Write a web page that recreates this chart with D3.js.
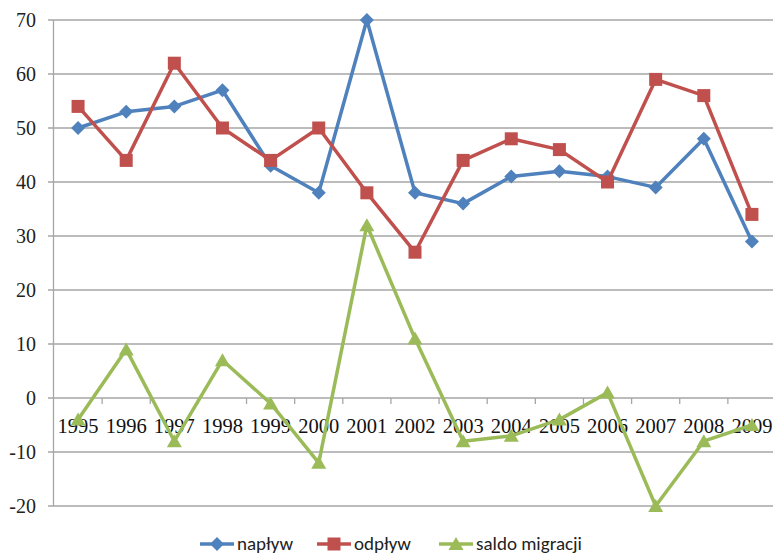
<!DOCTYPE html>
<html>
<head>
<meta charset="utf-8">
<script src="https://cdn.jsdelivr.net/npm/d3@7"></script>
<style>
body { margin: 0; background: #fff; }
</style>
</head>
<body>
<svg id="chart" width="775" height="554"></svg>
<script>
var years = ["1995","1996","1997","1998","1999","2000","2001","2002","2003","2004","2005","2006","2007","2008","2009"];
var naplyw = [50, 53, 54, 57, 43, 38, 70, 38, 36, 41, 42, 41, 39, 48, 29];
var odplyw = [54, 44, 62, 50, 44, 50, 38, 27, 44, 48, 46, 40, 59, 56, 34];
var saldo = [-4, 9, -8, 7, -1, -12, 32, 11, -8, -7, -4, 1, -20, -8, -5];
var yTicks = [-20, -10, 0, 10, 20, 30, 40, 50, 60, 70];

var series = [
	{ name: "napływ", values: naplyw, color: "#4F81BD", shape: "diamond" },
	{ name: "odpływ", values: odplyw, color: "#C0504D", shape: "square" },
	{ name: "saldo migracji", values: saldo, color: "#9BBB59", shape: "triangle" }
];

var svg = d3.select("#chart"),
	plotL = 54, plotR = 776, plotT = 20, plotB = 506;

var x = d3.scaleBand().domain(years).range([plotL, plotR]);
var y = d3.scaleLinear().domain([-20, 70]).range([plotB, plotT]);

// gridlines
svg.append("g").selectAll("line")
	.data(yTicks)
	.enter()
	.append("line")
	.attr("x1", plotL - 6)
	.attr("x2", 773)
	.attr("y1", function(d) { return y(d); })
	.attr("y2", function(d) { return y(d); })
	.style("stroke", "#a6a6a6")
	.style("stroke-width", 1.3);

// y axis line
svg.append("line")
	.attr("x1", plotL - 0.5).attr("x2", plotL - 0.5)
	.attr("y1", plotT).attr("y2", plotB)
	.style("stroke", "#a6a6a6")
	.style("stroke-width", 1.3);

svg.append("g").selectAll("text")
	.data(yTicks)
	.enter()
	.append("text")
	.attr("x", 36)
	.attr("y", function(d) { return y(d) + 7; })
	.attr("text-anchor", "end")
	.style("font-family", "'Liberation Serif', 'Times New Roman', serif")
	.style("font-size", "20px")
	.style("fill", "#222")
	.text(function(d) { return d; });

// category ticks on the zero line
svg.append("g").selectAll("line")
	.data(years.slice(1))
	.enter()
	.append("line")
	.attr("x1", function(d) { return x(d); })
	.attr("x2", function(d) { return x(d); })
	.attr("y1", y(0))
	.attr("y2", y(0) + 6)
	.style("stroke", "#a6a6a6")
	.style("stroke-width", 1.3);

svg.append("g").selectAll("text")
	.data(years)
	.enter()
	.append("text")
	.attr("x", function(d) { return x(d) + x.bandwidth() / 2; })
	.attr("y", y(0) + 35)
	.attr("text-anchor", "middle")
	.style("font-family", "'Liberation Serif', 'Times New Roman', serif")
	.style("font-size", "20.5px")
	.style("fill", "#111")
	.text(function(d) { return d; });

function marker(sel, shape, color) {
	if (shape === "diamond") {
		sel.append("path").attr("d", "M0,-7L7,0L0,7L-7,0Z").style("fill", color);
	} else if (shape === "square") {
		sel.append("rect").attr("x", -6.5).attr("y", -6.5).attr("width", 13).attr("height", 13).style("fill", color);
	} else {
		sel.append("path").attr("d", "M0,-7L7.5,6L-7.5,6Z").style("fill", color);
	}
}

var line = d3.line()
	.x(function(d, i) { return x(years[i]) + x.bandwidth() / 2; })
	.y(function(d) { return y(d); });

series.forEach(function(s) {
	var g = svg.append("g");
	g.append("path")
		.attr("d", line(s.values))
		.style("fill", "none")
		.style("stroke", s.color)
		.style("stroke-width", 3.5)
		.style("stroke-linejoin", "round");
	g.selectAll("g")
		.data(s.values)
		.enter()
		.append("g")
		.attr("transform", function(d, i) {
			return "translate(" + (x(years[i]) + x.bandwidth() / 2) + "," + y(d) + ")";
		})
		.each(function() { marker(d3.select(this), s.shape, s.color); });
});

// legend
var legX = [200, 317, 439];
var legend = svg.append("g").selectAll("g")
	.data(series)
	.enter()
	.append("g")
	.attr("transform", function(d, i) { return "translate(" + legX[i] + ",544)"; });
legend.append("line")
	.attr("x1", 0).attr("x2", 34)
	.style("stroke", function(d) { return d.color; })
	.style("stroke-width", 3.5);
legend.each(function(d) {
	var m = d3.select(this).append("g").attr("transform", "translate(17,0)");
	marker(m, d.shape, d.color);
});
legend.append("text")
	.attr("x", 37)
	.attr("y", 6)
	.style("font-family", "Carlito, 'Open Sans', 'Liberation Sans', sans-serif")
	.style("font-size", "19px")
	.style("fill", "#222")
	.text(function(d) { return d.name; });
</script>
</body>
</html>
